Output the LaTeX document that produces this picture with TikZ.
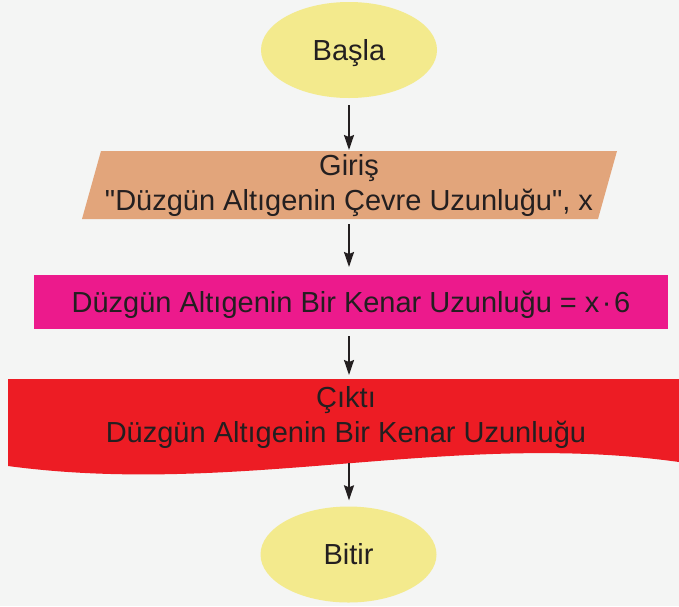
\documentclass[tikz,border=0pt]{standalone}
\usepackage{fontspec}
\setmainfont{Liberation Sans}[Ligatures=TeXOff]
\usetikzlibrary{shapes.geometric,arrows.meta}
\definecolor{bgc}{HTML}{F4F5F4}
\definecolor{ink}{HTML}{231F20}
\definecolor{yel}{HTML}{F3EA8D}
\definecolor{tanc}{HTML}{E2A57B}
\definecolor{pinkc}{HTML}{EC1A8C}
\definecolor{redc}{HTML}{ED1C24}
\begin{document}
\begin{tikzpicture}[x=1pt,y=-1pt,
  txt/.style={text=ink, font=\fontsize{29}{35}\selectfont, inner sep=0pt},
  arr/.style={draw=ink, line width=1.8pt, -{Stealth[length=15pt,width=10pt,inset=2pt]}},
  term/.style={ellipse, fill=yel, minimum width=176pt, minimum height=96pt, inner sep=0pt, text height=20.8pt, text depth=0pt, txt},
  holder/.style={inner sep=0pt, outer sep=0pt}]
\useasboundingbox (0,0) rectangle (679,606);
\fill[bgc] (0,0) rectangle (679,606);
% start
\node[term] (basla) at (349,50) {Başla};
% input
\fill[tanc] (101,151) -- (617,151) -- (598,219) -- (82,219) -- cycle;
\node[holder, minimum width=535pt, minimum height=68pt] (giris) at (349.5,185) {};
\node[txt, anchor=base] (giristxt1) at (349,175) {Giriş};
\node[txt, anchor=base] (giristxt2) at (349,210) {"Düzgün Altıgenin Çevre Uzunluğu", x};
% process
\node[holder, fill=pinkc, minimum width=634pt, minimum height=54pt] (islem) at (351,302) {};
\node[txt, anchor=base] (islemtxt) at (351,312) {Düzgün Altıgenin Bir Kenar Uzunluğu = x\kern2.5pt·\kern2.5pt6};
% output (document)
\fill[redc] (8,379) -- (679,379) -- (679,462) .. controls (450,430) and (240,497) .. (8,466) -- cycle;
\node[holder, minimum width=671pt, minimum height=82pt] (cikti) at (343.5,420) {};
\node[txt, anchor=base] (ciktitxt1) at (346,407) {Çıktı};
\node[txt, anchor=base] (ciktitxt2) at (346,442) {Düzgün Altıgenin Bir Kenar Uzunluğu};
% end
\node[term] (bitir) at (348.5,554.5) {Bitir};
% connectors
\draw[arr, shorten <=7pt, shorten >=1pt] (basla.south) -- (basla.south |- giris.north);
\draw[arr, shorten <=5pt, shorten >=8pt] (giris.south -| basla.south) -- (islem.north -| basla.south);
\draw[arr, shorten <=7pt, shorten >=4pt] (islem.south -| basla.south) -- (cikti.north -| basla.south);
\draw[arr, shorten <=2pt, shorten >=6pt] (cikti.south -| basla.south) -- (bitir.north -| basla.south);
\end{tikzpicture}
\end{document}
